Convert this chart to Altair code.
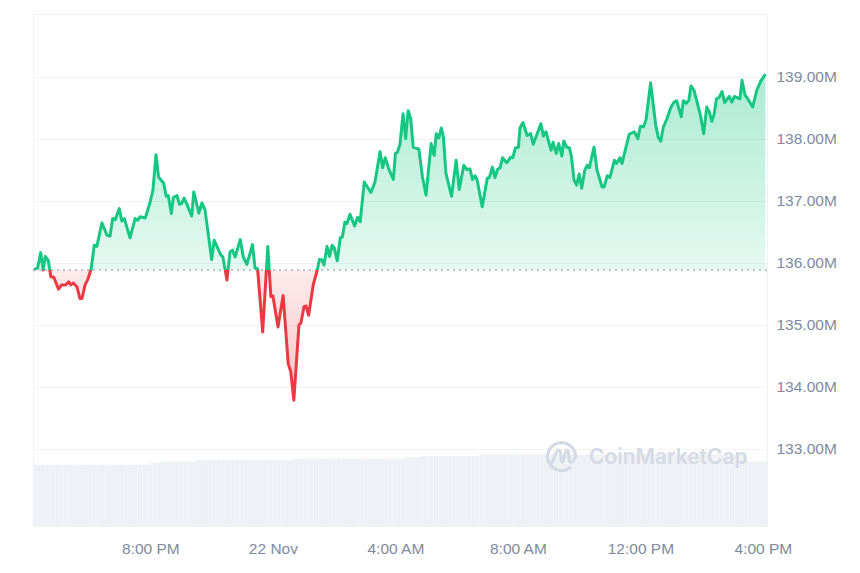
import altair as alt
import pandas as pd

# minutes after 16:00 on 21 Nov
minutes = [
    12, 19, 25, 30, 34, 40, 45, 51, 60, 66, 74, 80, 84, 89, 96, 102, 106, 112, 117, 124,
    130, 135, 145, 155, 161, 166, 171, 179, 184, 189, 200, 210, 215, 220, 230, 239, 245, 251, 256, 266,
    271, 275, 281, 285, 292, 297, 301, 306, 311, 321, 325, 335, 341, 347, 360, 365, 378, 382, 390, 396,
    401, 406, 416, 422, 429, 440, 445, 450, 460, 470, 476, 480, 490, 500, 510, 515, 521, 531, 535, 541,
    545, 550, 559, 567, 571, 576, 580, 586, 591, 596, 600, 606, 612, 616, 621, 625, 631, 640, 646, 651,
    659, 672, 680, 690, 695, 700, 708, 716, 720, 724, 729, 735, 740, 745, 750, 755, 766, 773, 780, 790,
    796, 800, 805, 810, 814, 819, 830, 839, 845, 854, 860, 866, 871, 876, 880, 890, 900, 904, 910, 915,
    920, 925, 930, 938, 946, 950, 955, 961, 964, 970, 978, 985, 990, 1005, 1010, 1015, 1025, 1029, 1035, 1040,
    1046, 1050, 1056, 1061, 1065, 1070, 1075, 1080, 1085, 1091, 1096, 1100, 1109, 1115, 1125, 1129, 1135, 1140, 1149, 1153,
    1160, 1164, 1178, 1188, 1195, 1200, 1206, 1211, 1220, 1230, 1235, 1240, 1245, 1251, 1260, 1266, 1271, 1280, 1284, 1290,
    1295, 1299, 1305, 1317, 1324, 1330, 1335, 1340, 1344, 1349, 1354, 1360, 1365, 1374, 1379, 1384, 1395, 1399, 1405, 1409,
    1420, 1428, 1436, 1445,
]
market_cap = [
    135.90, 135.92, 136.17, 135.89, 136.11, 136.04, 135.78, 135.77, 135.58, 135.65, 135.65, 135.70, 135.65, 135.68, 135.62, 135.43, 135.43, 135.65, 135.73, 135.91,
    136.29, 136.27, 136.65, 136.45, 136.44, 136.72, 136.70, 136.88, 136.68, 136.72, 136.41, 136.72, 136.69, 136.75, 136.73, 136.97, 137.18, 137.75, 137.39, 137.29,
    137.08, 137.09, 136.80, 137.06, 137.09, 136.95, 136.96, 137.05, 136.96, 136.76, 137.15, 136.81, 136.97, 136.86, 136.06, 136.37, 136.13, 136.10, 135.73, 136.18,
    136.21, 136.10, 136.38, 136.10, 135.98, 136.30, 135.92, 135.91, 134.89, 136.27, 135.46, 135.47, 134.97, 135.48, 134.38, 134.25, 133.79, 135.00, 135.04, 135.30,
    135.31, 135.16, 135.65, 135.89, 136.06, 136.05, 135.97, 136.27, 136.11, 136.29, 136.25, 136.04, 136.41, 136.42, 136.66, 136.64, 136.79, 136.60, 136.74, 136.67,
    137.31, 137.14, 137.31, 137.80, 137.54, 137.70, 137.50, 137.35, 137.77, 137.79, 137.92, 138.41, 138.01, 138.46, 138.33, 137.87, 137.84, 137.39, 137.10, 137.93,
    137.74, 138.09, 138.02, 138.18, 138.04, 137.45, 137.08, 137.66, 137.19, 137.58, 137.51, 137.52, 137.35, 137.41, 137.35, 136.91, 137.37, 137.38, 137.55, 137.38,
    137.51, 137.54, 137.70, 137.62, 137.71, 137.70, 137.86, 137.87, 138.18, 138.27, 138.06, 138.09, 137.92, 138.25, 138.05, 138.12, 137.82, 137.95, 137.77, 137.93,
    137.73, 137.97, 137.87, 137.86, 137.71, 137.34, 137.26, 137.44, 137.21, 137.50, 137.58, 137.54, 137.87, 137.50, 137.23, 137.23, 137.41, 137.38, 137.66, 137.61,
    137.70, 137.61, 138.08, 138.12, 138.01, 138.21, 138.20, 138.31, 138.91, 138.23, 138.03, 137.97, 138.20, 138.31, 138.52, 138.60, 138.62, 138.36, 138.62, 138.58,
    138.63, 138.86, 138.79, 138.41, 138.09, 138.52, 138.44, 138.29, 138.39, 138.65, 138.67, 138.77, 138.59, 138.69, 138.60, 138.69, 138.65, 138.95, 138.71, 138.67,
    138.52, 138.79, 138.94, 139.05,
]
baseline = 135.89

# rolling volume level, in steps: level holds from the start minute until the next one
volume_start = [0, 240, 259, 330, 520, 739, 768, 885, 1407]
volume_level = [0.99, 1.02, 1.04, 1.065, 1.085, 1.11, 1.13, 1.155, 1.04]
volume_minutes = list(range(12, 1448, 5))

y_ticks = [133, 134, 135, 136, 137, 138, 139]
x_tick_minutes = [240, 480, 720, 960, 1200, 1440]
x_domain = [10, 1448]
y_domain = [131.76, 140.02]
volume_domain = [0, 8.26]

START = pd.Timestamp("2023-11-21T16:00:00")
GREEN = "#16C784"
RED = "#EA3943"
GREY = "#808A9D"
FONT = "Liberation Sans"


def iso(m):
    return (START + pd.Timedelta(minutes=m)).strftime("%Y-%m-%dT%H:%M:%SZ")


def volume_at(m):
    level = volume_level[0]
    for start, value in zip(volume_start, volume_level):
        if m >= start:
            level = value
    return level


df = pd.DataFrame({"time": [iso(m) for m in minutes], "cap": market_cap, "base": baseline})
df_vol = pd.DataFrame({"time": [iso(m) for m in volume_minutes],
                       "volume": [volume_at(m) for m in volume_minutes]})
df_base = pd.DataFrame({"base": [baseline]})

# hard colour change at the baseline, as a share of the line's own height
split = (max(market_cap) - baseline) / (max(market_cap) - min(market_cap))

line_paint = alt.LinearGradient(
    gradient="linear", x1=0, x2=0, y1=0, y2=1,
    stops=[alt.GradientStop(offset=0, color=GREEN), alt.GradientStop(offset=split, color=GREEN),
           alt.GradientStop(offset=split, color=RED), alt.GradientStop(offset=1, color=RED)],
)
area_paint = alt.LinearGradient(
    gradient="linear", x1=0, x2=0, y1=0, y2=1,
    stops=[alt.GradientStop(offset=0, color="rgba(22,199,132,0.36)"),
           alt.GradientStop(offset=split, color="rgba(22,199,132,0.11)"),
           alt.GradientStop(offset=split, color="rgba(234,57,67,0.10)"),
           alt.GradientStop(offset=1, color="rgba(234,57,67,0.30)")],
)

x_scale = alt.Scale(type="utc", domain=[iso(x_domain[0]), iso(x_domain[1])], padding=0)
y_scale = alt.Scale(domain=y_domain, nice=False, zero=False)

x_enc = alt.X(
    "time:T", scale=x_scale, title=None,
    axis=alt.Axis(
        values=[iso(m) for m in x_tick_minutes],
        labelExpr="utchours(datum.value) == 0 ? utcFormat(datum.value, '%-d %b') : utcFormat(datum.value, '%-I:%M %p')",
        grid=False, domain=False, ticks=False, labelPadding=22,
        labelFont=FONT, labelFontSize=15.5, labelColor=GREY, labelBaseline="middle",
        labelOverlap=False, labelFlush=False,
    ),
)

volume = alt.Chart(df_vol).mark_bar(width=2.5, color="#EDF0F4").encode(
    x=x_enc,
    y=alt.Y("volume:Q", scale=alt.Scale(domain=volume_domain, nice=False), axis=None),
)

area = alt.Chart(df).mark_area(fill=area_paint, line=False).encode(
    x=x_enc,
    y=alt.Y("cap:Q", scale=y_scale, title=None,
            axis=alt.Axis(
                orient="right", values=y_ticks, grid=True, gridColor="#F1F3F6", gridWidth=1,
                domain=False, ticks=False, labelPadding=9, labelOffset=-1,
                labelExpr="format(datum.value, '.2f') + 'M'",
                labelFont=FONT, labelFontSize=15.5, labelColor=GREY,
            )),
    y2="base:Q",
)

dots = alt.Chart(df_base).mark_rule(color="#A6B0C3", strokeWidth=1.5, strokeDash=[2, 4]).encode(
    y=alt.Y("base:Q", scale=y_scale, axis=None),
)

line = alt.Chart(df).mark_line(stroke=line_paint, strokeWidth=3, strokeJoin="round").encode(
    x=x_enc,
    y=alt.Y("cap:Q", scale=y_scale, axis=None),
)

# watermark, placed by hand in the plot's own pixels
logo_path = (
    "M0.70,0.72 A1,1 0 1 1 1,0.05 "
    "M-0.70,0.50 C-0.5,0 -0.35,-0.5 -0.15,-0.45 C0,-0.4 -0.1,0.4 0.05,0.4 "
    "C0.2,0.4 0.2,-0.45 0.4,-0.45 C0.6,-0.45 0.45,0.4 0.65,0.4 C0.8,0.4 0.95,0.2 1,0.05"
)
logo = alt.Chart(pd.DataFrame({"n": [0]})).mark_point(
    shape=logo_path, size=784, filled=False, stroke="#D5DAE5", strokeWidth=3.2, opacity=1
).encode(x=alt.value(528.5), y=alt.value(442.5))

brand = alt.Chart(pd.DataFrame({"label": ["CoinMarketCap"]})).mark_text(
    align="left", baseline="middle", font="Inter", fontSize=21, fontWeight=600, color="#D5DAE5"
).encode(text="label:N", x=alt.value(556), y=alt.value(444))

chart = alt.layer(volume, area, dots, line, logo, brand).resolve_scale(y="independent").properties(
    width=734, height=512,
    padding={"left": 24, "top": 6, "right": 5, "bottom": 5},
).configure_view(stroke="#EFF2F5")

chart.save("out.html", embed_options={"renderer": "svg", "actions": False})
